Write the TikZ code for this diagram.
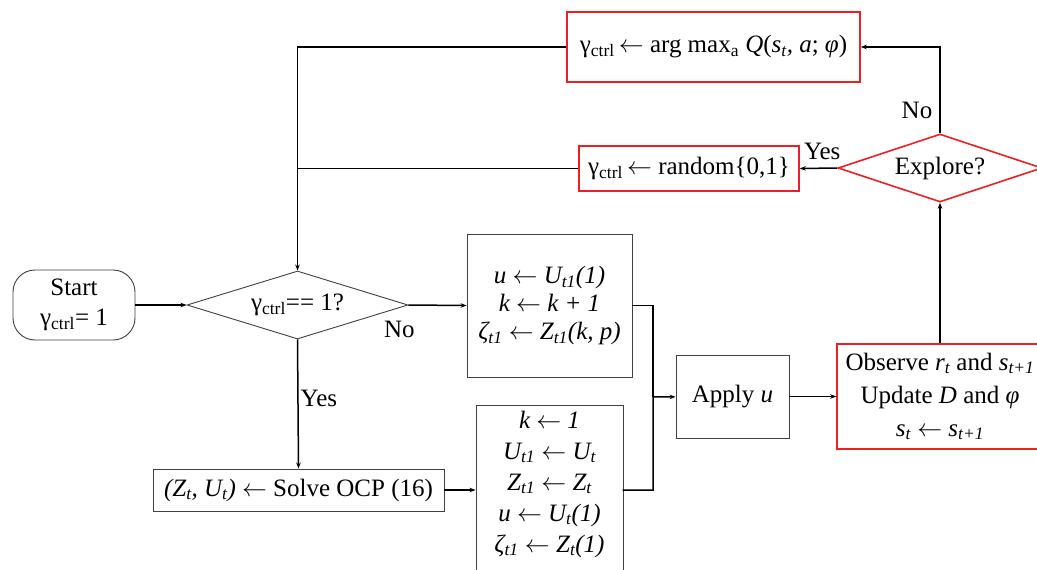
\documentclass[tikz,border=0pt]{standalone}
\usepackage{fontspec}
\setmainfont{Liberation Serif}
\usetikzlibrary{shapes.geometric, arrows.meta}

\definecolor{boxred}{RGB}{240,30,35}
\newcommand{\gc}{γ\textsubscript{ctrl}}
\newcommand{\la}{\ensuremath{\leftarrow}}

\tikzset{
    base/.style={font=\fontsize{25}{30}\selectfont, align=center, inner sep=0pt},
    plainbox/.style={base, draw=black!75, line width=0.9pt},
    mathbox/.style={plainbox, font=\fontsize{25}{31}\selectfont\itshape},
    redbox/.style={base, draw=boxred, line width=1.6pt},
    decision/.style={base, shape=diamond, aspect=3.2},
    flow/.style={line width=1.5pt, -{Stealth[length=6pt, width=4.5pt]}},
    link/.style={line width=1.5pt}
}

\begin{document}
\begin{tikzpicture}[x=1pt, y=-1pt]
    \clip (0,0) rectangle (1037,570);
    \useasboundingbox (0,0) rectangle (1037,570);

    % nodes
    \node[plainbox, rounded corners=22pt, minimum width=122pt, minimum height=70pt] (start) at (74,305) {Start\\\gc= 1};
    \node[decision, draw=black!75, line width=0.9pt, minimum width=221pt, minimum height=68pt] (dec) at (297.5,305) {\gc== 1?};
    \node[mathbox, minimum width=165pt, minimum height=143pt] (upd) at (549.5,305.5) {%
        u \la\ U\textsubscript{t1}(1)\\[-3pt]
        k \la\ k + 1\\[-3pt]
        ζ\textsubscript{t1} \la\ Z\textsubscript{t1}(k, p)};
    \node[plainbox, minimum width=291pt, minimum height=42pt] (solve) at (298.5,490) {\textit{(Z\textsubscript{t}, U\textsubscript{t})} \la\ Solve OCP (16)};
    \node[mathbox, minimum width=147pt, minimum height=188pt] (init) at (549.5,499) {%
        k \la\ 1\\
        U\textsubscript{t1} \la\ U\textsubscript{t}\\
        Z\textsubscript{t1} \la\ Z\textsubscript{t}\\
        u \la\ U\textsubscript{t}(1)\\
        ζ\textsubscript{t1} \la\ Z\textsubscript{t}(1)\\[4pt]\mbox{}};
    \node[plainbox, minimum width=113pt, minimum height=83pt] (apply) at (732.5,396.5) {Apply \textit{u}};
    \node[redbox, minimum width=206pt, minimum height=105pt] (obs) at (940,396.5) {%
        Observe \textit{r\textsubscript{t}} and \textit{s\textsubscript{t+1}}\\[3pt]
        Update \textit{D} and \textit{φ}\\[3pt]
        \textit{s\textsubscript{t}} \la\ \textit{s\textsubscript{t+1}}};
    \node[decision, draw=boxred, line width=1.6pt, minimum width=204pt, minimum height=68pt] (explore) at (940,168) {Explore?};
    \node[redbox, minimum width=220pt, minimum height=45pt] (rand) at (689,168.5) {\gc\,\la\ random\{0,1\}};
    \node[redbox, minimum width=293pt, minimum height=70pt] (greedy) at (713.5,47) {\gc\,\la\ arg max\textsubscript{a} \textit{Q}(\textit{s\textsubscript{t}, a}; \textit{φ})};
    \coordinate (join) at (653,397);

    % connectors
    \draw[flow] (start) -- (dec);
    \draw[flow] (dec.east) -- (upd.west) node[base, pos=0, anchor=north east, xshift=7pt, yshift=-15pt] {No};
    \draw[flow] (dec.south) -- (solve.north) node[base, pos=0.46, right=2pt] {Yes};
    \draw[flow] (solve.east) -- (solve.east -| init.west);
    \draw[link] (upd.east) -| (join);
    \draw[flow] (init.west |- solve.east) ++(147pt,0) -| (join) -- (apply);
    \draw[flow] (apply) -- (obs);
    \draw[flow] (obs.north) -- (explore.south);
    \draw[flow] (explore.north) |- (greedy.east) node[base, pos=0.13, left=7pt] {No};
    \draw[flow] (explore.west) -- (rand.east) node[base, pos=0.4, above=8pt] {Yes};
    \draw[flow] (greedy.west) -| (dec.north);
    \draw[link] (rand.west) -- (rand.west -| dec.north);
\end{tikzpicture}
\end{document}
